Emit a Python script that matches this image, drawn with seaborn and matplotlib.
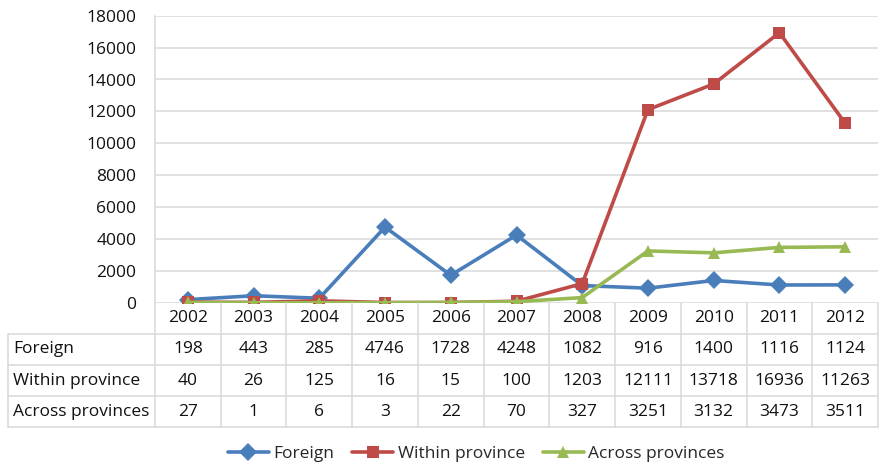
import matplotlib
matplotlib.use("Agg")
import matplotlib.pyplot as plt
import seaborn as sns
import pandas as pd

years = ["2002", "2003", "2004", "2005", "2006", "2007", "2008", "2009", "2010", "2011", "2012"]
foreign = [198, 443, 285, 4746, 1728, 4248, 1082, 916, 1400, 1116, 1124]
within_province = [40, 26, 125, 16, 15, 100, 1203, 12111, 13718, 16936, 11263]
across_provinces = [27, 1, 6, 3, 22, 70, 327, 3251, 3132, 3473, 3511]
series_names = ["Foreign", "Within province", "Across provinces"]
series_values = [foreign, within_province, across_provinces]
y_ticks = list(range(0, 18001, 2000))

sns.set_theme(style="white")
plt.rcParams["font.family"] = ["Open Sans", "DejaVu Sans"]

colors = {"Foreign": "#4A7EBB", "Within province": "#BE4B48", "Across provinces": "#98B954"}
markers = {"Foreign": "D", "Within province": "s", "Across provinces": "^"}

rows = []
for name, vals in zip(series_names, series_values):
    for i, v in enumerate(vals):
        rows.append({"pos": i, "year": years[i], "value": v, "series": name})
df = pd.DataFrame(rows)

W, H = 882, 467
fig = plt.figure(figsize=(W / 100, H / 100), dpi=100)
x0, x1 = 155, 878
y_top, y_zero = 15.7, 302.8
ax = fig.add_axes([x0 / W, 1 - y_zero / H, (x1 - x0) / W, (y_zero - y_top) / H])

sns.lineplot(data=df, x="pos", y="value", hue="series", style="series",
             palette=colors, markers=markers, dashes=False, ax=ax,
             linewidth=2.6, markersize=9, markeredgewidth=0, legend=True)

ax.set_xlim(-0.5, len(years) - 0.5)
ax.set_ylim(0, 18000)
ax.set_yticks(y_ticks)
ax.set_yticklabels([str(t) for t in y_ticks], fontsize=12.5, color="#111111")
ax.set_xticks([])
ax.set_xlabel("")
ax.set_ylabel("")
ax.tick_params(axis="y", length=0, pad=13.5)
ax.grid(axis="y", color="#d9d9d9", linewidth=1.1)
ax.set_axisbelow(True)
for s in ["top", "right", "bottom"]:
    ax.spines[s].set_visible(False)
ax.spines["left"].set_color("#d9d9d9")
ax.spines["left"].set_linewidth(1.1)

handles, labels = ax.get_legend_handles_labels()
ax.get_legend().remove()
fig.legend(handles, labels, loc="center", bbox_to_anchor=(0.540, 1 - 454 / H),
           ncol=3, frameon=False, fontsize=12.5, handlelength=2.36,
           columnspacing=1.05, handletextpad=0.25)

# data table
tl = 8
row_h = 31.1
t_bottom = y_zero + 4 * row_h
col_w = (x1 - x0) / len(years)
tax = fig.add_axes([tl / W, 1 - t_bottom / H, (x1 - tl) / W, (t_bottom - y_zero) / H])
tax.set_xlim(-0.5 - (x0 - tl) / col_w, len(years) - 0.5)
tax.set_ylim(4, 0)
tax.axis("off")
lc = "#d9d9d9"
left_edge = -0.5 - (x0 - tl) / col_w
for r in [1, 2, 3, 4]:
    tax.plot([left_edge, len(years) - 0.5], [r, r], color=lc, lw=1.1, clip_on=False)
for c in range(len(years) + 1):
    tax.plot([c - 0.5, c - 0.5], [0, 4], color=lc, lw=1.1, clip_on=False)
tax.plot([left_edge, left_edge], [1, 4], color=lc, lw=1.1, clip_on=False)

for i, y in enumerate(years):
    tax.text(i, 0.5, y, ha="center", va="center", fontsize=12.5, color="#111111")
for r, (name, vals) in enumerate(zip(series_names, series_values), start=1):
    tax.text(left_edge + 5 / col_w, r + 0.5, name, ha="left", va="center", fontsize=12.5, color="#111111")
    for i, v in enumerate(vals):
        tax.text(i, r + 0.5, str(v), ha="center", va="center", fontsize=12.5, color="#111111")

fig.savefig("out.png", dpi=100)
